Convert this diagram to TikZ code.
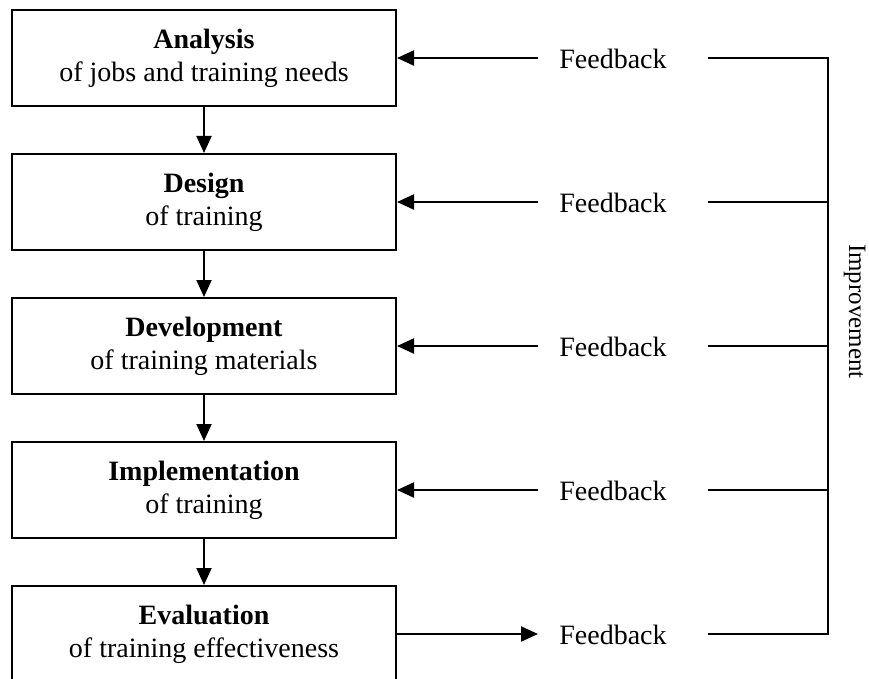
\documentclass[tikz,border=0pt]{standalone}
\usepackage{fontspec}
\setmainfont{Liberation Serif}
\usetikzlibrary{arrows.meta}
\begin{document}
\begin{tikzpicture}[x=1pt,y=-1pt,line width=2pt,
  stage/.style={draw, rectangle, minimum width=384pt, minimum height=96pt, inner sep=0pt, align=center, font=\fontsize{28}{33}\selectfont},
  fb/.style={font=\fontsize{28}{33}\selectfont, inner sep=0pt},
  tip/.style={-{Triangle[length=17pt,width=15pt]}}]
\useasboundingbox (0,0) rectangle (869,679);
\clip (0,0) rectangle (869,679);
% stages
\node[stage] (b1) at (204,58) {\textbf{Analysis}\\of jobs and training needs};
\node[stage] (b2) at (204,202) {\textbf{Design}\\of training};
\node[stage] (b3) at (204,346) {\textbf{Development}\\of training materials};
\node[stage] (b4) at (204,490) {\textbf{Implementation}\\of training};
\node[stage] (b5) at (204,634) {\textbf{Evaluation}\\of training effectiveness};
% feedback labels
\node[fb] (f1) at (613,59) {Feedback};
\node[fb] (f2) at (613,203) {Feedback};
\node[fb] (f3) at (613,347) {Feedback};
\node[fb] (f4) at (613,491) {Feedback};
\node[fb] (f5) at (613,635) {Feedback};
% connector ends
\coordinate (l1) at (538,58);
\coordinate (l2) at (538,202);
\coordinate (l3) at (538,346);
\coordinate (l4) at (538,490);
\coordinate (l5) at (538,634);
\coordinate (r1) at (708,58);
\coordinate (r2) at (708,202);
\coordinate (r3) at (708,346);
\coordinate (r4) at (708,490);
\coordinate (r5) at (708,634);
\coordinate (c1) at (828,58);
\coordinate (c2) at (828,202);
\coordinate (c3) at (828,346);
\coordinate (c4) at (828,490);
\coordinate (c5) at (828,634);
% vertical flow
\draw[tip] (b1.south) -- (b2.north);
\draw[tip] (b2.south) -- (b3.north);
\draw[tip] (b3.south) -- (b4.north);
\draw[tip] (b4.south) -- (b5.north);
% feedback arrows
\draw[tip] (l1) -- (b1.east);
\draw[tip] (l2) -- (b2.east);
\draw[tip] (l3) -- (b3.east);
\draw[tip] (l4) -- (b4.east);
\draw[tip] (b5.east) -- (l5);
% improvement bracket
\draw (r1) -- (c1) -- (c5) -- (r5);
\draw (r2) -- (c2);
\draw (r3) -- (c3);
\draw (r4) -- (c4);
\node[font=\fontsize{25}{30}\selectfont, inner sep=0pt, rotate=-90, anchor=base west] (imp) at (849,243) {Improvement};
\end{tikzpicture}
\end{document}
